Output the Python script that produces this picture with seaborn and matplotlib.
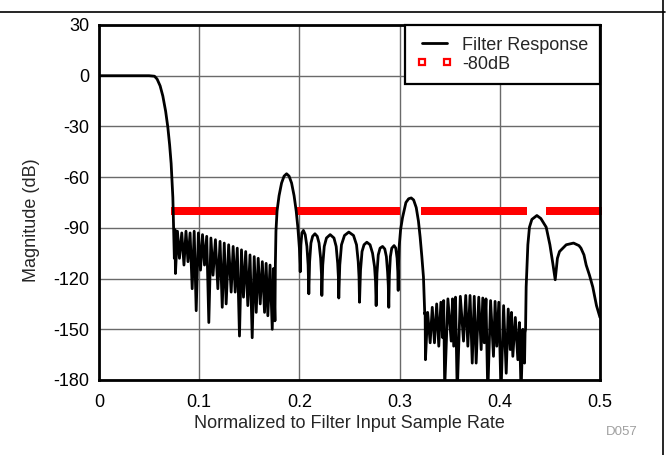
import numpy as np
import pandas as pd
import matplotlib
matplotlib.use("Agg")
import matplotlib.pyplot as plt
import seaborn as sns
from matplotlib.lines import Line2D

# ---------------- data ----------------
passband_f = [0.0, 0.050, 0.0554, 0.058, 0.0610, 0.0637, 0.0665, 0.0687, 0.0705, 0.0720, 0.0737, 0.0745, 0.0752]
passband_db = [0, 0, -0.3, -2, -6, -12, -21, -30.5, -41, -52, -72, -90, -108]

stop1_f = [0.0758, 0.0763, 0.0783, 0.0803, 0.0826, 0.0848, 0.0868, 0.0888, 0.0909, 0.0930,
           0.0950, 0.0970, 0.0992, 0.1013, 0.1033, 0.1053, 0.1075, 0.1096, 0.1117, 0.1138,
           0.1162, 0.1186, 0.1208, 0.1230, 0.1250, 0.1269, 0.1294, 0.1319, 0.1339, 0.1359,
           0.1380, 0.1402, 0.1422, 0.1442, 0.1464, 0.1485, 0.1507, 0.1529, 0.1549, 0.1569,
           0.1589, 0.1609, 0.1630, 0.1652, 0.1668, 0.1685, 0.1707, 0.1729, 0.1743, 0.1756]
stop1_db = [-91, -117, -92, -108, -93, -112, -92, -110, -93, -126,
            -92, -139, -93, -115, -94, -112, -95, -146, -96, -118,
            -97, -126, -98, -137, -99, -135, -100, -128, -101, -128,
            -102, -154, -103, -131, -104, -136, -106, -155, -107, -140,
            -108, -135, -110, -140, -111, -142, -112, -150, -114, -145]

alias1_f = [0.1760, 0.1766, 0.1777, 0.1797, 0.1822, 0.1847, 0.1872, 0.1897, 0.1922, 0.1947,
            0.1968, 0.1985, 0.2000, 0.2008]
alias1_db = [-112, -92, -80, -71, -63.5, -59.4, -58, -59.4, -63.5, -71,
             -80, -90, -102, -116]

stop2_f = [0.2015, 0.2025, 0.2040, 0.2058, 0.2075, 0.2087, 0.2094,
           0.2102, 0.2115, 0.2132, 0.2155, 0.2178, 0.2196, 0.2212, 0.2220, 0.2224,
           0.2233, 0.2248, 0.2270, 0.2307, 0.2345, 0.2367, 0.2382, 0.2389, 0.2393,
           0.2403, 0.2420, 0.2450, 0.2493, 0.2540, 0.2570, 0.2587, 0.2595, 0.2600,
           0.2610, 0.2625, 0.2645, 0.2673, 0.2705, 0.2730, 0.2750, 0.2760, 0.2766,
           0.2774, 0.2787, 0.2805, 0.2830, 0.2852, 0.2868, 0.2880, 0.2887, 0.2892,
           0.2898, 0.2908, 0.2922, 0.2945, 0.2962, 0.2975, 0.2982, 0.2986]
stop2_db = [-100, -93, -91.5, -94, -101, -112, -129,
            -110, -99, -95, -93.5, -95, -99, -108, -117, -130,
            -112, -101, -96, -94, -96, -101, -111, -119, -131.5,
            -112, -100, -94.5, -92.5, -94.5, -100, -110, -119, -134,
            -115, -104, -100, -98.5, -100, -105, -113, -122, -136,
            -117, -106, -102, -101, -102.5, -107, -116, -124, -137,
            -118, -107, -102, -100.5, -102, -108, -116, -127]

alias2_f = [0.2990, 0.2996, 0.3010, 0.3029, 0.3063, 0.3090, 0.3116, 0.3140, 0.3166, 0.3188,
            0.3205, 0.3222, 0.3238, 0.3251]
alias2_db = [-110, -101, -91, -84, -75, -72.8, -72.3, -73.5, -78, -86,
             -95.5, -107, -119, -141]

stop3_f = [0.3255, 0.3258, 0.3280, 0.3305, 0.3326, 0.3348, 0.3370, 0.3391, 0.3412, 0.3430,
           0.3440, 0.3450, 0.3482, 0.3515, 0.3528, 0.3540, 0.3558, 0.3575, 0.3606, 0.3638,
           0.3660, 0.3681, 0.3703, 0.3725, 0.3745, 0.3764, 0.3790, 0.3814, 0.3830, 0.3845,
           0.3862, 0.3880, 0.3908, 0.3937, 0.3953, 0.3970, 0.3990, 0.4012, 0.4038, 0.4064,
           0.4084, 0.4104, 0.4117, 0.4130, 0.4155, 0.4180, 0.4196, 0.4212, 0.4230, 0.4247,
           0.4252]
stop3_db = [-140, -168, -140, -158, -137, -158, -135, -160, -134, -155,
            -133, -185, -132, -157, -132, -160, -131, -188, -130.5, -157,
            -130, -160, -130, -170, -130.5, -170, -131, -162, -131.5, -158,
            -132, -188, -133, -166, -133.5, -160, -134, -188, -136, -176,
            -138, -162, -140, -166, -143, -168, -146, -188, -150, -170,
            -152]

alias3_f = [0.4257, 0.4263, 0.4280, 0.4296, 0.4320, 0.4370, 0.4410, 0.4463, 0.4500, 0.4529,
            0.4553, 0.4575, 0.4596, 0.4663, 0.4736, 0.4790, 0.4810, 0.4840, 0.4862, 0.4895,
            0.4928, 0.4965, 0.5000]
alias3_db = [-150, -125, -100, -89.6, -85, -82.7, -84.5, -89.6, -100, -111,
             -120.7, -108, -104, -100, -99, -100.5, -102, -106, -112, -118,
             -125, -136, -143]

mask_start = [0.0760, 0.2008, 0.3256, 0.4503]
mask_end = [0.1745, 0.2976, 0.4233, 0.4985]
mask_level = -80

x_ticks = [0, 0.1, 0.2, 0.3, 0.4, 0.5]
x_ticklabels = ["0", "0.1", "0.2", "0.3", "0.4", "0.5"]
y_ticks = [-180, -150, -120, -90, -60, -30, 0, 30]
y_ticklabels = ["-180", "-150", "-120", "-90", "-60", "-30", "0", "30"]

# ---------------- assemble ----------------
freq = passband_f + stop1_f + alias1_f + stop2_f + alias2_f + stop3_f + alias3_f
mag = passband_db + stop1_db + alias1_db + stop2_db + alias2_db + stop3_db + alias3_db
resp = pd.DataFrame({"f": freq, "db": mag})

mask_x = np.concatenate([np.arange(s, e + 1e-9, 0.0015) for s, e in zip(mask_start, mask_end)])
mask = pd.DataFrame({"f": mask_x, "db": np.full(len(mask_x), mask_level)})

sns.set_theme(style="white")
plt.rcParams["font.family"] = ["Liberation Sans", "DejaVu Sans"]
plt.rcParams["font.size"] = 13

fig = plt.figure(figsize=(6.69, 4.55), dpi=100)
ax = fig.add_axes([99 / 669, 1 - 380 / 455, 501 / 669, 355 / 455])

sns.scatterplot(data=mask, x="f", y="db", marker="s", s=30, color="#ff0000",
                linewidth=0, ax=ax, clip_on=False, zorder=2, legend=False)
sns.lineplot(data=resp, x="f", y="db", sort=False, estimator=None, color="black",
             linewidth=2.0, ax=ax, zorder=3, legend=False)

ax.set_xlim(0, 0.5)
ax.set_ylim(-180, 30)
ax.set_xticks(x_ticks)
ax.set_xticklabels(x_ticklabels)
ax.set_yticks(y_ticks)
ax.set_yticklabels(y_ticklabels)
ax.tick_params(axis="both", length=0, labelsize=13, colors="black")
ax.tick_params(axis="x", pad=10)
ax.tick_params(axis="y", pad=7)
ax.grid(True, color="#6a6a6a", linewidth=1.0)
ax.set_axisbelow(True)
for sp in ax.spines.values():
    sp.set_color("black")
    sp.set_linewidth(2.0)
    sp.set_visible(True)

ax.set_xlabel("Normalized to Filter Input Sample Rate", fontsize=13, labelpad=3)
ax.set_ylabel("Magnitude (dB)", fontsize=13)
ax.yaxis.set_label_coords(-0.118, 0.45)

handles = [Line2D([], [], color="black", lw=2.0),
           Line2D([], [], color="red", marker="s", markersize=4, markeredgewidth=1.6,
                  markerfacecolor="white", linestyle="none")]
leg = ax.legend(handles, ["Filter Response", "-80dB"], loc="upper right",
                borderaxespad=0, fancybox=False, framealpha=1, edgecolor="black",
                fontsize=13, handlelength=1.95, handletextpad=0.55, labelspacing=0.1,
                borderpad=0.65, numpoints=2)
leg.get_frame().set_linewidth(1.6)

fig.text(622 / 669, 1 - 432 / 455, "D057", fontsize=9.5, color="#a0a0a0",
         ha="center", va="center")

fig.add_artist(Line2D([0, 665 / 669], [1 - 12.3 / 455, 1 - 12.3 / 455], color="black", lw=1.2))
fig.add_artist(Line2D([663 / 669, 663 / 669], [0, 1], color="black", lw=1.2))

fig.savefig("out.png", dpi=100)
